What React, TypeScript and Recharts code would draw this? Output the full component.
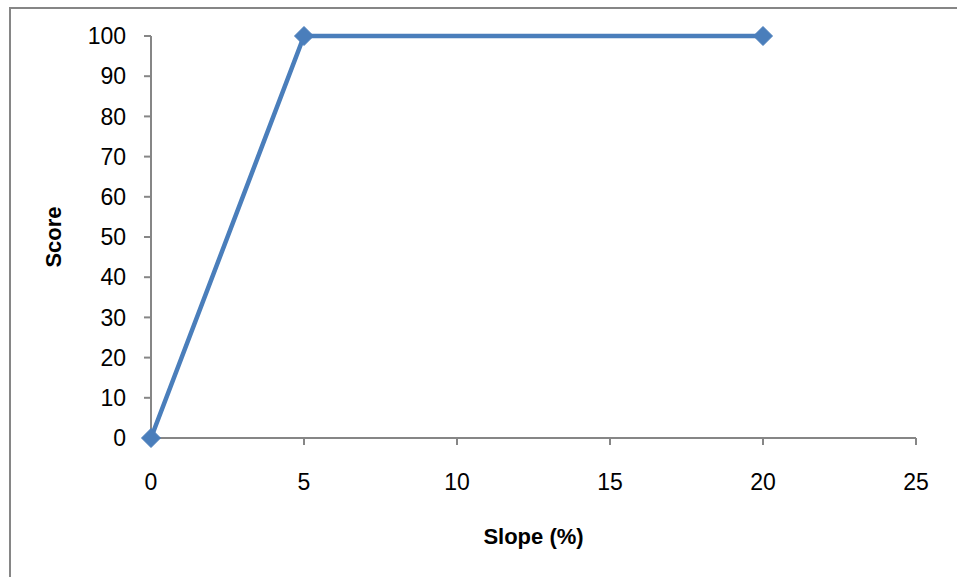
import { LineChart, Line, XAxis, YAxis } from "recharts";

// slope (%) vs score
const slopePct = [0, 5, 20];
const scores = [0, 100, 100];
const xTicks = [0, 5, 10, 15, 20, 25];
const yTicks = [0, 10, 20, 30, 40, 50, 60, 70, 80, 90, 100];

const data = slopePct.map((x, i) => ({ x, score: scores[i] }));

const LINE = "#4A7EBB";
const AXIS = "#868686";
const FONT = "'Liberation Sans', Arial, sans-serif";

function Diamond({ cx, cy }: { cx?: number; cy?: number }) {
  if (cx == null || cy == null) return null;
  const r = 9.5;
  return (
    <path
      d={`M${cx},${cy - r} L${cx + r},${cy} L${cx},${cy + r} L${cx - r},${cy} Z`}
      fill={LINE}
      stroke={LINE}
      strokeWidth={1}
    />
  );
}

export default function App() {
  const tick = { fill: "#000", fontSize: 23, fontFamily: FONT };
  return (
    <div style={{ position: "absolute", left: 0, top: 0, width: 957, height: 577, background: "#fff", overflow: "hidden" }}>
      <div
        style={{
          position: "absolute",
          left: 9,
          top: 7,
          width: 1000,
          height: 620,
          border: `2px solid ${AXIS}`,
          boxSizing: "border-box",
        }}
      />
      <LineChart
        width={957}
        height={577}
        data={data}
        margin={{ top: 36, right: 41, bottom: 29, left: 20 }}
        style={{ position: "absolute", left: 0, top: 0 }}
      >
        <XAxis
          dataKey="x"
          type="number"
          domain={[0, 25]}
          ticks={xTicks}
          height={110}
          tickSize={7}
          tickMargin={29}
          stroke={AXIS}
          strokeWidth={2}
          tick={tick}
          label={{
            value: "Slope (%)",
            position: "insideBottom",
            offset: 4,
            style: { fill: "#000", fontSize: 22, fontWeight: 700, fontFamily: FONT },
          }}
        />
        <YAxis
          type="number"
          domain={[0, 100]}
          ticks={yTicks}
          width={131}
          tickSize={7}
          tickMargin={18}
          stroke={AXIS}
          strokeWidth={2}
          tick={tick}
          label={{
            value: "Score",
            angle: -90,
            position: "insideLeft",
            offset: 33,
            style: { fill: "#000", fontSize: 22, fontWeight: 700, fontFamily: FONT, textAnchor: "middle" },
          }}
        />
        <Line
          dataKey="score"
          stroke={LINE}
          strokeWidth={4.5}
          dot={<Diamond />}
          activeDot={false}
          isAnimationActive={false}
        />
      </LineChart>
    </div>
  );
}
